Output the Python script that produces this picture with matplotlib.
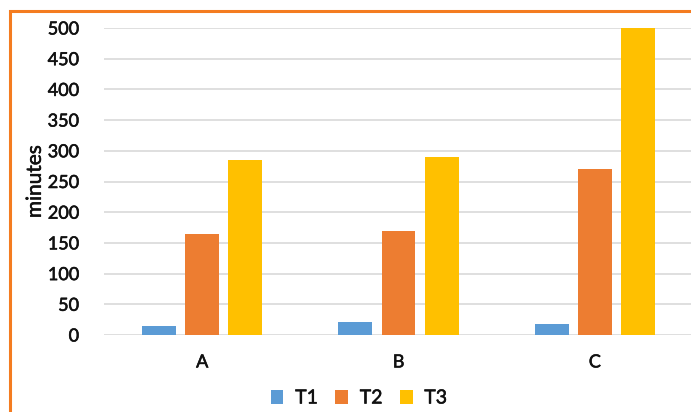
import matplotlib
matplotlib.use("Agg")
import matplotlib.pyplot as plt
import matplotlib.patheffects as pe
import numpy as np
from matplotlib.patches import Rectangle

categories = ["A", "B", "C"]
series_names = ["T1", "T2", "T3"]
t1 = [15, 21, 18]
t2 = [165, 170, 270]
t3 = [285, 290, 500]
yticks = [0, 50, 100, 150, 200, 250, 300, 350, 400, 450, 500]
colors = ["#5B9BD5", "#ED7D31", "#FFC000"]

plt.rcParams['font.family'] = ['Lato', 'DejaVu Sans']
txt = "#111111"
bold = [pe.withStroke(linewidth=0.4, foreground=txt)]

W, H = 691, 412
fig = plt.figure(figsize=(W/100, H/100), dpi=100)
ax = fig.add_axes([104/W, 77/H, 589/W, 307/H])

x = np.arange(len(categories))
offsets = [-0.22, 0.0, 0.22]
width = 0.173
for vals, off, c, name in zip([t1, t2, t3], offsets, colors, series_names):
    ax.bar(x + off, vals, width=width, color=c, label=name, zorder=3)

ax.set_xlim(-0.5, 2.5)
ax.set_ylim(0, 500)
ax.set_yticks(yticks)
ax.set_yticklabels([str(v) for v in yticks], fontsize=13, color=txt)
ax.set_xticks(x)
ax.set_xticklabels(categories, fontsize=13, color=txt)
ax.tick_params(axis='both', length=0)
ax.tick_params(axis='y', pad=18)
ax.tick_params(axis='x', pad=14)
ax.yaxis.grid(True, color="#D9D9D9", linewidth=1.2, zorder=0)
for s in ax.spines.values():
    s.set_visible(False)
ax.set_ylabel("minutes", fontsize=15, color=txt, labelpad=2)

leg = fig.legend(loc="center", bbox_to_anchor=(359/W, 1 - 398/H), ncol=3,
                 frameon=False, fontsize=14, handlelength=0.65, handleheight=0.7,
                 handletextpad=0.6, columnspacing=0.9)

for t in ax.get_xticklabels() + ax.get_yticklabels() + [ax.yaxis.label] + leg.get_texts():
    t.set_color(txt)
    t.set_path_effects(bold)

fig.patches.append(Rectangle((9.5/W, -0.1), 1.2, 1 - 10.5/H + 0.1, transform=fig.transFigure,
                             fill=False, edgecolor="#F47C20", linewidth=2.2))

fig.savefig("out.png", dpi=100)
